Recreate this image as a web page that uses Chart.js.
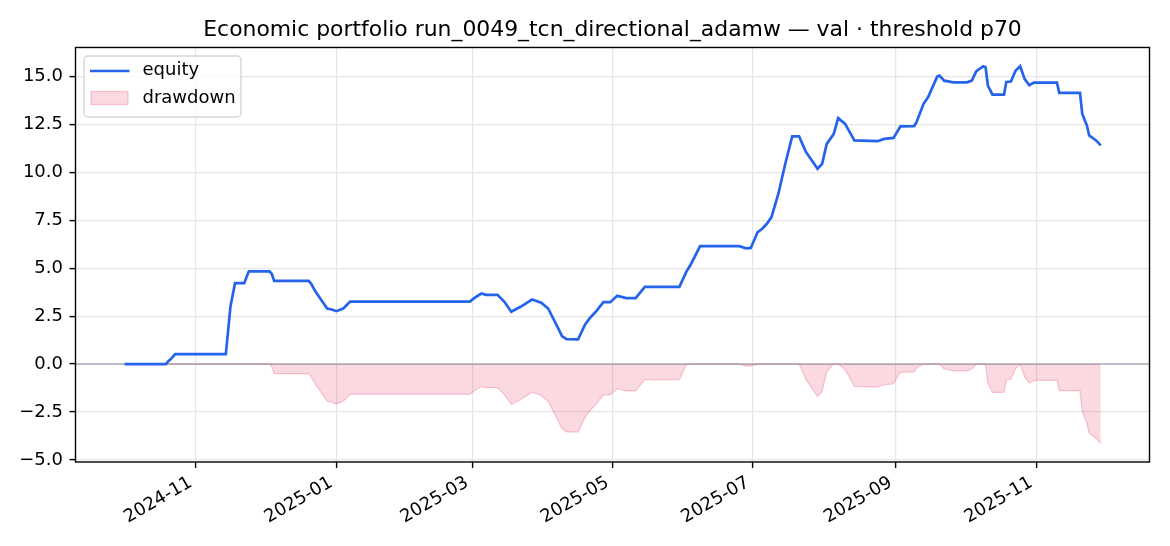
<!DOCTYPE html>
<html>
<head>
<meta charset="utf-8">
<script src="https://cdn.jsdelivr.net/npm/chart.js@4/dist/chart.umd.min.js"></script>
<style>
  html, body { margin: 0; padding: 0; background: #fff; }
  #wrap { width: 1170px; height: 546px; }
</style>
</head>
<body>
<div id="wrap"><canvas id="myChart" width="1170" height="546"></canvas></div>
<script>
// values (daily equity curve, break points only)
var dates = [
  '2024-10-01','2024-10-19','2024-10-20','2024-10-21','2024-10-23','2024-11-14','2024-11-16','2024-11-18',
  '2024-11-22','2024-11-23','2024-11-24','2024-12-03','2024-12-04','2024-12-05','2024-12-20','2024-12-21',
  '2024-12-23','2024-12-25','2024-12-28','2024-12-30','2025-01-01','2025-01-04','2025-01-07','2025-02-28',
  '2025-03-02','2025-03-05','2025-03-07','2025-03-12','2025-03-15','2025-03-18','2025-03-22','2025-03-27',
  '2025-03-31','2025-04-03','2025-04-07','2025-04-09','2025-04-11','2025-04-16','2025-04-19','2025-04-21',
  '2025-04-24','2025-04-27','2025-04-30','2025-05-03','2025-05-07','2025-05-11','2025-05-15','2025-05-30',
  '2025-06-02','2025-06-04','2025-06-08','2025-06-25','2025-06-28','2025-06-30','2025-07-03','2025-07-05',
  '2025-07-07','2025-07-09','2025-07-12','2025-07-15','2025-07-18','2025-07-21','2025-07-24','2025-07-27',
  '2025-07-29','2025-07-31','2025-08-02','2025-08-05','2025-08-07','2025-08-10','2025-08-12','2025-08-14',
  '2025-08-24','2025-08-27','2025-08-31','2025-09-01','2025-09-03','2025-09-09','2025-09-10','2025-09-13',
  '2025-09-15','2025-09-19','2025-09-20','2025-09-22','2025-09-26','2025-10-02','2025-10-04','2025-10-06',
  '2025-10-09','2025-10-10','2025-10-11','2025-10-13','2025-10-18','2025-10-19','2025-10-21','2025-10-23',
  '2025-10-25','2025-10-27','2025-10-29','2025-10-31','2025-11-10','2025-11-11','2025-11-20','2025-11-21',
  '2025-11-23','2025-11-24','2025-11-27','2025-11-29'
];
var equity = [
  0.00, 0.00, 0.15, 0.25, 0.52, 0.52, 3.00, 4.22,
  4.22, 4.55, 4.84, 4.84, 4.69, 4.34, 4.34, 4.20,
  3.77, 3.42, 2.90, 2.85, 2.76, 2.90, 3.26, 3.26,
  3.45, 3.68, 3.61, 3.61, 3.25, 2.73, 2.99, 3.37,
  3.20, 2.90, 1.95, 1.46, 1.30, 1.29, 2.05, 2.38,
  2.78, 3.23, 3.23, 3.56, 3.44, 3.44, 4.03, 4.03,
  4.81, 5.21, 6.15, 6.15, 6.04, 6.06, 6.89, 7.06,
  7.32, 7.67, 8.89, 10.45, 11.88, 11.88, 11.06, 10.54,
  10.19, 10.45, 11.49, 12.00, 12.83, 12.53, 12.10, 11.67,
  11.63, 11.75, 11.80, 12.00, 12.40, 12.42, 12.62, 13.57,
  13.92, 15.00, 15.05, 14.79, 14.70, 14.70, 14.79, 15.28,
  15.54, 15.49, 14.53, 14.06, 14.06, 14.72, 14.74, 15.31,
  15.54, 14.87, 14.55, 14.69, 14.69, 14.15, 14.15, 13.05,
  12.45, 11.93, 11.67, 11.41
];
var xTickMonths = ['2024-11','2025-01','2025-03','2025-05','2025-07','2025-09','2025-11'];
var yTicks = [-5, -2.5, 0, 2.5, 5, 7.5, 10, 12.5, 15];

var DAY = 86400000;
function toTime(s) {
  var p = s.split('-');
  return Date.UTC(+p[0], +p[1] - 1, p[2] ? +p[2] : 1);
}
function fmtMonth(t) {
  var d = new Date(t);
  var m = d.getUTCMonth() + 1;
  return d.getUTCFullYear() + '-' + (m < 10 ? '0' + m : m);
}

// drawdown = equity minus its running peak
var peak = -Infinity;
var equityPts = [], ddPts = [];
for (var i = 0; i < dates.length; i++) {
  var t = toTime(dates[i]);
  peak = Math.max(peak, equity[i]);
  equityPts.push({x: t, y: equity[i]});
  ddPts.push({x: t, y: +(equity[i] - peak).toFixed(2)});
}

var X_MIN = toTime('2024-11-01') - 52.3 * DAY;
var X_MAX = toTime('2024-11-01') + 414.2 * DAY;
var FONT = 'DejaVu Sans';

// legend inside the axes + full frame + zero line
var decor = {
  id: 'decor',
  beforeDatasetsDraw: function(chart) {
    var ctx = chart.ctx, a = chart.chartArea;
    var y0 = chart.scales.y.getPixelForValue(0);
    ctx.save();
    ctx.strokeStyle = 'rgba(100,112,135,0.6)';
    ctx.lineWidth = 1.3;
    ctx.beginPath();
    ctx.moveTo(a.left, y0);
    ctx.lineTo(a.right, y0);
    ctx.stroke();
    ctx.restore();
  },
  afterDraw: function(chart) {
    var ctx = chart.ctx, a = chart.chartArea;
    var eq = chart.data.datasets[0], dd = chart.data.datasets[1];
    ctx.save();
    // frame
    ctx.strokeStyle = '#000';
    ctx.lineWidth = 1.4;
    ctx.strokeRect(a.left, a.top, a.right - a.left, a.bottom - a.top);
    // legend box
    var bx = a.left + 8.5, by = a.top + 8.5, bw = 157, bh = 61;
    ctx.beginPath();
    ctx.roundRect(bx, by, bw, bh, 4);
    ctx.fillStyle = 'rgba(255,255,255,0.8)';
    ctx.fill();
    ctx.strokeStyle = '#d6d6d6';
    ctx.lineWidth = 1.4;
    ctx.stroke();
    ctx.strokeStyle = eq.borderColor;
    ctx.lineWidth = eq.borderWidth;
    ctx.beginPath();
    ctx.moveTo(bx + 6, by + 15);
    ctx.lineTo(bx + 45.5, by + 15);
    ctx.stroke();
    ctx.fillStyle = dd.backgroundColor;
    ctx.fillRect(bx + 7, by + 35.5, 37, 13);
    ctx.strokeStyle = dd.borderColor;
    ctx.lineWidth = 1.2;
    ctx.strokeRect(bx + 7, by + 35.5, 37, 13);
    ctx.fillStyle = '#000';
    ctx.font = '18px "' + FONT + '"';
    ctx.textBaseline = 'middle';
    ctx.textAlign = 'left';
    ctx.fillText(eq.label, bx + 58.5, by + 14.5);
    ctx.fillText(dd.label, bx + 58.5, by + 42);
    ctx.restore();
  }
};

var ctx = document.getElementById('myChart').getContext('2d');
var chart = new Chart(ctx, {
    type: 'line',
    data: {
        datasets: [{
            label: 'equity',
            data: equityPts,
            borderColor: '#2563eb',
            borderWidth: 2.7,
            pointRadius: 0,
            tension: 0,
            fill: false,
            order: 0
        }, {
            label: 'drawdown',
            data: ddPts,
            borderColor: 'rgba(225,29,72,0.22)',
            backgroundColor: 'rgba(225,29,72,0.17)',
            borderWidth: 1.2,
            pointRadius: 0,
            tension: 0,
            fill: 'origin',
            order: 1
        }]
    },
    options: {
        responsive: false,
        animation: false,
        events: [],
        layout: { padding: { left: 0, right: 20.5, top: 0, bottom: 0 } },
        plugins: {
            legend: { display: false },
            tooltip: { enabled: false },
            title: {
                display: true,
                fullSize: false,
                text: 'Economic portfolio run_0049_tcn_directional_adamw \u2014 val \u00b7 threshold p70',
                color: '#000',
                font: { family: FONT, size: 21.9, weight: 'normal' },
                padding: { top: 17, bottom: 4.2 }
            }
        },
        scales: {
            x: {
                type: 'linear',
                min: X_MIN,
                max: X_MAX,
                afterBuildTicks: function(scale) {
                    scale.ticks = xTickMonths.map(function(m) { return {value: toTime(m)}; });
                },
                afterFit: function(scale) { scale.height = 84; },
                ticks: {
                    minRotation: 30,
                    maxRotation: 30,
                    padding: 4,
                    labelOffset: -5,
                    color: '#000',
                    font: { family: FONT, size: 18 },
                    callback: function(v) { return fmtMonth(v); }
                },
                grid: { color: '#e6e6e6', lineWidth: 1.2, tickColor: '#000', tickLength: 6, tickWidth: 1.4 },
                border: { display: false }
            },
            y: {
                min: -5.11,
                max: 16.52,
                afterBuildTicks: function(scale) {
                    scale.ticks = yTicks.map(function(v) { return {value: v}; });
                },
                afterFit: function(scale) { scale.width = 75.5; },
                ticks: {
                    padding: 6.5,
                    color: '#000',
                    font: { family: FONT, size: 18 },
                    callback: function(v) { return v.toFixed(1).replace('-', '\u2212'); }
                },
                grid: { color: '#e6e6e6', lineWidth: 1.2, tickColor: '#000', tickLength: 6, tickWidth: 1.4 },
                border: { display: false }
            }
        }
    },
    plugins: [decor]
});
</script>
</body>
</html>
